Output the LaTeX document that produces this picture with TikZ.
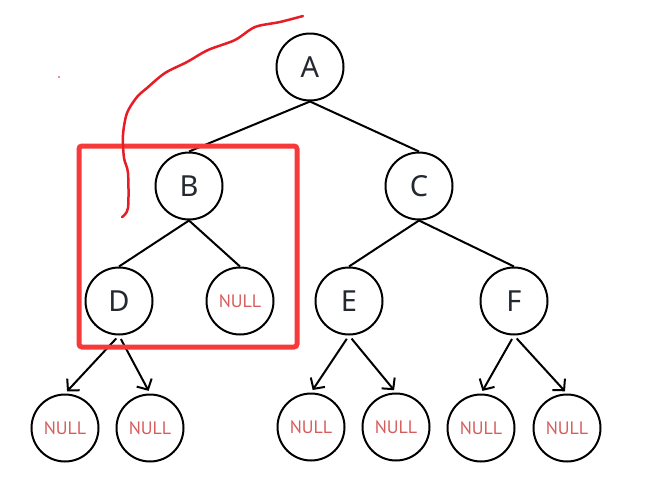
\documentclass[tikz,border=0pt]{standalone}
\usepackage{fontspec}
\setmainfont{Noto Sans}
\newfontfamily\nilfont{PT Sans}
\usetikzlibrary{arrows.meta}
\definecolor{letter}{RGB}{36,40,48}
\definecolor{nullred}{RGB}{214,92,92}
\definecolor{boxred}{RGB}{246,58,58}
\definecolor{penred}{RGB}{232,28,36}

\begin{document}
\begin{tikzpicture}[x=1pt,y=-1pt,
  knot/.style={draw,circle,line width=2pt,minimum size=67pt,inner sep=0pt,
    text=letter,font=\fontsize{29}{29}\selectfont},
  nil/.style={knot,text=nullred,font=\nilfont\fontsize{18}{18}\selectfont},
  branch/.style={line width=2pt},
  pointer/.style={line width=2pt,-{Straight Barb[length=8pt,width=17pt,line width=2pt]},
    shorten <=4pt,shorten >=3pt}]
\useasboundingbox (0,0) rectangle (663,498);

\path   (310,67)  node[knot] (A) {A}
        (189,186) node[knot] (B) {B}
        (419,186) node[knot] (C) {C}
        (119,301) node[knot] (D) {D}
        (240,301) node[nil]  (Bn) {NULL}
        (349,301) node[knot] (E) {E}
        (514,301) node[knot] (F) {F}
        (65,428)  node[nil]  (Dl) {NULL}
        (150,428) node[nil]  (Dr) {NULL}
        (311,427) node[nil]  (El) {NULL}
        (396,427) node[nil]  (Er) {NULL}
        (481,428) node[nil]  (Fl) {NULL}
        (567,428) node[nil]  (Fr) {NULL};

\foreach \top/\sub in {A/B,A/C,B/D,B/Bn,C/E,C/F}
	\draw[branch] (\top.south) -- (\sub.north);
\foreach \top/\sub in {D/Dl,D/Dr,E/El,E/Er,F/Fl,F/Fr}
	\draw[pointer] (\top.south) -- (\sub.north);

% red marks
\draw[boxred,line width=5pt,rounded corners=3pt] (79,146) rectangle (297,347);
\draw[penred,line width=2.5pt,line cap=round,line join=round]
  plot[smooth] coordinates {(303,16) (280,22) (255,27) (235,40) (208,50) (187,62)
    (165,73) (147,88) (137,97) (127,113) (123,135) (124,158) (128,173) (128,208) (122,217)};
\fill[penred] (59,77) circle (0.8pt);
\end{tikzpicture}
\end{document}
